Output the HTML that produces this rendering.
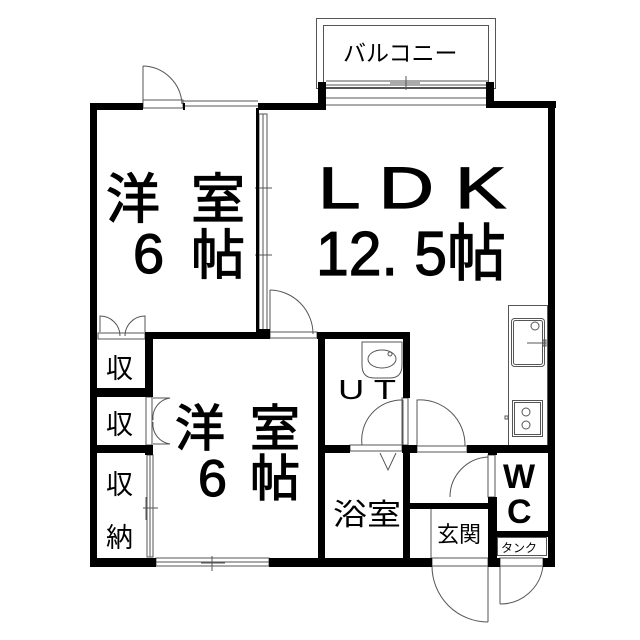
<!DOCTYPE html>
<html><head><meta charset="utf-8"><style>
html,body{margin:0;padding:0;background:#fff;}
svg{display:block;}
text{font-family:"Liberation Sans","Noto Sans CJK JP",sans-serif;fill:#000;}
.b{stroke:#000;stroke-width:1.2;}
</style></head><body>
<svg width="640" height="640" viewBox="0 0 640 640" xmlns="http://www.w3.org/2000/svg">
<g fill="none" stroke="#555" stroke-width="1">
<rect x="316.5" y="18.5" width="179" height="70"/>
<rect x="323.5" y="25.5" width="165" height="62"/>
<line x1="326" y1="81" x2="488" y2="81"/><line x1="326" y1="85" x2="488" y2="85"/>
<line x1="326" y1="98" x2="488" y2="98"/><line x1="326" y1="105" x2="488" y2="105"/>
<line x1="390" y1="83" x2="420" y2="83"/><line x1="406" y1="76" x2="406" y2="90"/>
<line x1="143" y1="66" x2="143" y2="104"/>
<path d="M143 66 A40 40 0 0 1 182 104"/>
<rect x="143" y="100" width="40" height="8"/>
<line x1="183" y1="101" x2="258" y2="101"/><line x1="183" y1="106" x2="258" y2="106"/>
<rect x="259" y="114" width="4" height="218"/><rect x="263" y="114" width="4" height="218"/>
<line x1="255" y1="188" x2="272" y2="188"/><line x1="255" y1="255" x2="272" y2="255"/>
<line x1="270" y1="290" x2="270" y2="334"/>
<path d="M270 290 A44 44 0 0 1 313 334"/>
<rect x="270" y="332" width="47" height="6"/>
<path d="M100 332 L100 316 A20 20 0 0 1 120 336"/>
<path d="M145 332 L145 316 A20 20 0 0 0 125 336"/>
<rect x="98" y="333" width="47" height="6"/>
<rect x="146" y="397" width="6" height="48"/>
<path d="M153 398 L170 398 A20 20 0 0 0 153 420"/>
<path d="M153 444 L170 444 A20 20 0 0 1 153 422"/>
<rect x="147" y="455" width="3" height="102"/><rect x="150" y="455" width="3" height="102"/>
<line x1="143" y1="508" x2="158" y2="508"/><line x1="146" y1="497" x2="146" y2="520"/>
<rect x="156" y="558" width="113" height="4"/><rect x="156" y="562" width="113" height="4"/>
<line x1="201" y1="563" x2="225" y2="563"/><line x1="212" y1="556" x2="212" y2="571"/>
<path d="M362 342 L402 342 L402 365 Q402 378 390 378 L374 378 Q362 378 362 365 Z"/>
<ellipse cx="382" cy="359" rx="14" ry="9"/>
<circle cx="390" cy="354" r="2"/>
<path d="M362 445 A40 40 0 0 1 403 400 L403 445"/>
<rect x="350" y="445" width="52" height="6"/>
<path d="M417 400 A45 45 0 0 1 465 446 L417 446 Z"/>
<rect x="417" y="446" width="50" height="6"/>
<rect x="402" y="398" width="6" height="47"/>
<path d="M380 453 L388 470 L396 453"/>
<rect x="488" y="455" width="7" height="42"/>
<path d="M488 457 A40 40 0 0 0 450 497"/>
<line x1="431" y1="509" x2="431" y2="558"/>
<rect x="497.5" y="537.5" width="49" height="18"/>
<rect x="432" y="558" width="56" height="8"/>
<line x1="488" y1="566" x2="488" y2="622"/>
<path d="M432 566 A56 56 0 0 0 488 622"/>
<rect x="500" y="558" width="43" height="8"/>
<line x1="500" y1="566" x2="500" y2="604"/>
<path d="M543 566 A43 43 0 0 1 500 604"/>
<rect x="508.5" y="305.5" width="39" height="140"/>
<rect x="511.5" y="318.5" width="33" height="48" rx="3"/>
<rect x="513.5" y="320.5" width="29" height="44" rx="2"/>
<circle cx="535" cy="326" r="4"/>
<line x1="527" y1="343" x2="546" y2="343"/>
<rect x="543" y="340" width="3" height="6"/>
<rect x="512.5" y="400.5" width="30" height="36"/>
<rect x="514.5" y="402.5" width="26" height="32"/>
<circle cx="526" cy="412" r="4"/><circle cx="526" cy="425" r="4"/>
<rect x="505" y="416" width="3" height="3"/>
</g>
<g fill="#000">
<rect x="90" y="103" width="7" height="463"/>
<rect x="90" y="103" width="53" height="7"/>
<rect x="183" y="103" width="2" height="7"/>
<rect x="258" y="103" width="68" height="7"/>
<rect x="318" y="82" width="8" height="28"/>
<rect x="486" y="82" width="8" height="26"/>
<rect x="486" y="101" width="70" height="7"/>
<rect x="548" y="101" width="7" height="466"/>
<rect x="90" y="558" width="66" height="9"/>
<rect x="269" y="558" width="163" height="9"/>
<rect x="488" y="558" width="12" height="9"/>
<rect x="543" y="558" width="12" height="9"/>
<rect x="256" y="108" width="3" height="226"/>
<rect x="145" y="332" width="125" height="7"/>
<rect x="256" y="329" width="14" height="10"/>
<rect x="317" y="332" width="93" height="7"/>
<rect x="145" y="332" width="8" height="65"/>
<rect x="97" y="388" width="56" height="9"/>
<rect x="97" y="445" width="56" height="8"/>
<rect x="145" y="445" width="8" height="10"/>
<rect x="318" y="332" width="7" height="234"/>
<rect x="403" y="332" width="7" height="66"/>
<rect x="318" y="445" width="32" height="8"/>
<rect x="402" y="445" width="15" height="8"/>
<rect x="467" y="445" width="88" height="8"/>
<rect x="403" y="445" width="7" height="121"/>
<rect x="410" y="503" width="78" height="6"/>
<rect x="488" y="445" width="9" height="10"/>
<rect x="488" y="497" width="9" height="70"/>
<rect x="497" y="531" width="51" height="6"/>
</g>
<text x="343" y="61" font-size="23">バルコニー</text>
<g class="b">
<text x="106" y="218" font-size="54">洋</text>
<text x="191" y="218" font-size="54">室</text>
<text x="133" y="273" font-size="56">6</text>
<text x="191" y="274" font-size="54">帖</text>
<text x="318" y="208" font-size="58" textLength="188" lengthAdjust="spacingAndGlyphs">L D K</text>
<text x="316" y="275" font-size="62" textLength="190" lengthAdjust="spacingAndGlyphs">12. 5帖</text>
<text x="175" y="446" font-size="50">洋</text>
<text x="250" y="446" font-size="50">室</text>
<text x="198" y="496" font-size="52">6</text>
<text x="250" y="496" font-size="50">帖</text>
</g>
<text x="106" y="378" font-size="27">収</text>
<text x="106" y="434" font-size="27">収</text>
<text x="106" y="494" font-size="27">収</text>
<text x="106" y="547" font-size="27">納</text>
<text x="338" y="399" font-size="28" textLength="58" lengthAdjust="spacingAndGlyphs">U T</text>
<text x="333" y="525" font-size="30" textLength="68" lengthAdjust="spacingAndGlyphs">浴室</text>
<text x="503" y="488" font-size="34" font-weight="bold">W</text>
<text x="507" y="523" font-size="34" font-weight="bold">C</text>
<text x="437" y="542" font-size="22">玄関</text>
<text x="501" y="552" font-size="12">タンク</text>
</svg>
</body></html>
